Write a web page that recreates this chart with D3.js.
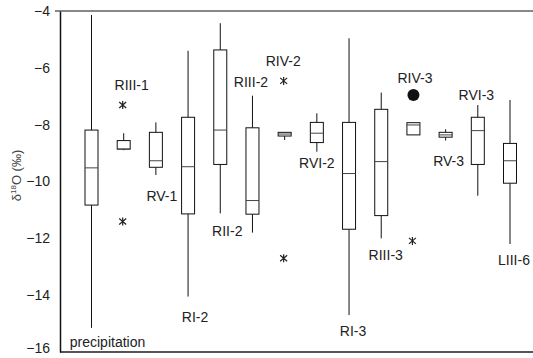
<!DOCTYPE html>
<html>
<head>
<meta charset="utf-8">
<script src="https://cdn.jsdelivr.net/npm/d3@7"></script>
<style>
  body { margin: 0; background: #fff; }
  text { font-family: Arial, "Liberation Sans", sans-serif; }
</style>
</head>
<body>
<svg id="chart"></svg>
<script>
const categories = ['precipitation', 'RIII-1', 'RV-1', 'RI-2', 'RII-2', 'RIII-2', 'RIV-2',
    'RVI-2', 'RI-3', 'RIII-3', 'RIV-3', 'RV-3', 'RVI-3', 'LIII-6']
const whiskerHigh = [-4.14, -8.30, -7.92, -5.40, -4.43, -6.98, -8.27, -7.60, -4.96, -6.87, -7.93, -8.16, -7.31, -7.13]
const q3 = [-8.19, -8.56, -8.27, -7.74, -5.37, -8.11, -8.27, -7.92, -7.92, -7.46, -7.93, -8.27, -7.74, -8.66]
const median = [-9.52, -8.86, -9.27, -9.48, -8.19, -10.67, -8.33, -8.30, -9.72, -9.30, -8.01, -8.36, -8.21, -9.27]
const q1 = [-10.83, -8.86, -9.50, -11.14, -9.40, -11.15, -8.40, -8.63, -11.68, -11.20, -8.36, -8.44, -9.40, -10.06]
const whiskerLow = [-15.15, -8.90, -9.77, -14.05, -11.12, -11.80, -8.54, -8.95, -14.70, -12.00, -8.36, -8.56, -10.50, -12.20]
// stars = extremes, dots = outliers
const extremes = [[], [-7.31, -11.41], [], [], [], [], [-6.46, -12.70], [], [], [], [-12.09], [], [], []]
const outliers = [[], [], [], [], [], [], [], [], [], [], [-6.96], [], [], []]
// label anchor (baseline) on the value axis
const labelValue = [-15.82, -6.78, -10.67, -14.96, -11.93, -6.67, -5.95, -9.53, -15.45, -12.78, -6.54, -9.47, -7.13, -12.94]
const yTicks = [-4, -6, -8, -10, -12, -14, -16]

// small horizontal nudges for the labels, px
const labelDx = [16, 8, 6, 7, 7, -1.5, -1.5, 0, 4, 4.5, 1.5, 3, -1.5, 4]

const W = 533, H = 358
const mLeft = 60, mTop = 11, mBottom = 352
const boxW = 13

const svg = d3.select('#chart').attr('width', W).attr('height', H)

const x = d3.scalePoint().domain(categories).range([91.5, 510])
const y = d3.scaleLinear().domain([-16, -4]).range([mBottom, mTop])

// frame lines top/bottom
svg.append('line')
    .attr('x1', 55).attr('x2', W).attr('y1', mTop).attr('y2', mTop)
    .attr('stroke', '#888').attr('stroke-width', 2)
svg.append('line')
    .attr('x1', mLeft).attr('x2', W).attr('y1', mBottom).attr('y2', mBottom)
    .attr('stroke', '#555').attr('stroke-width', 2)

const yAxis = d3.axisLeft(y).tickValues(yTicks).tickSize(0).tickPadding(10)
const gy = svg.append('g')
    .attr('transform', 'translate(' + mLeft + ',0)')
    .call(yAxis)
gy.select('.domain').attr('stroke', '#111').attr('stroke-width', 1.5)
gy.selectAll('text').attr('font-size', 14).attr('fill', '#222')
    .attr('font-family', 'Arial, "Liberation Sans", sans-serif')
// bottom label sits a little higher, like the original, so it isn't clipped
gy.selectAll('.tick').filter(d => d === -16).select('text').attr('dy', '0.05em')

// y title
const title = svg.append('text')
    .attr('transform', 'translate(21,' + ((mTop + mBottom) / 2 - 6) + ') rotate(-90)')
    .attr('text-anchor', 'middle')
    .attr('font-size', 13)
    .attr('fill', '#444')
title.append('tspan').text('δ')
title.append('tspan').text('18').attr('font-size', 8).attr('dy', -5)
title.append('tspan').text('O (‰)').attr('dy', 5)

const groups = svg.selectAll('.box')
    .data(categories)
    .join('g')
    .attr('class', 'box')
    .attr('transform', d => 'translate(' + x(d) + ',0)')

// whiskers
groups.append('line')
    .attr('x1', 0).attr('x2', 0)
    .attr('y1', (d, i) => y(whiskerHigh[i]))
    .attr('y2', (d, i) => y(q3[i]))
    .attr('stroke', '#111')
groups.append('line')
    .attr('x1', 0).attr('x2', 0)
    .attr('y1', (d, i) => y(q1[i]))
    .attr('y2', (d, i) => y(whiskerLow[i]))
    .attr('stroke', '#111')

groups.append('rect')
    .attr('x', -boxW / 2)
    .attr('y', (d, i) => y(q3[i]))
    .attr('width', boxW)
    .attr('height', (d, i) => Math.max(1, y(q1[i]) - y(q3[i])))
    .attr('fill', '#fff')
    .attr('stroke', '#111')

groups.append('line')
    .attr('x1', -boxW / 2).attr('x2', boxW / 2)
    .attr('y1', (d, i) => y(median[i]))
    .attr('y2', (d, i) => y(median[i]))
    .attr('stroke', '#444')

// extremes as asterisks
const star = 'M0,-4V4M-3.5,-3L3.5,3M-3.5,3L3.5,-3'
groups.each(function (d, i) {
    const g = d3.select(this)
    g.selectAll('.star')
        .data(extremes[i])
        .join('path')
        .attr('class', 'star')
        .attr('d', star)
        .attr('transform', v => 'translate(-1,' + y(v) + ')')
        .attr('stroke', '#222')
        .attr('stroke-width', 1.2)
        .attr('fill', 'none')
    g.selectAll('.dot')
        .data(outliers[i])
        .join('circle')
        .attr('class', 'dot')
        .attr('cx', 0)
        .attr('cy', v => y(v))
        .attr('r', 6)
        .attr('fill', '#111')
})

groups.append('text')
    .attr('x', (d, i) => labelDx[i])
    .attr('y', (d, i) => y(labelValue[i]))
    .attr('text-anchor', 'middle')
    .attr('font-size', 14)
    .attr('fill', '#222')
    .text(d => d)
</script>
</body>
</html>
